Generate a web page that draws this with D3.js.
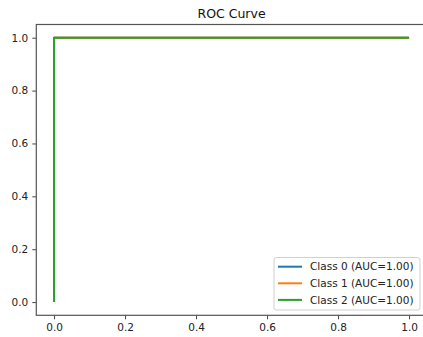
<!DOCTYPE html>
<html><head><meta charset="utf-8">
<script src="https://cdn.jsdelivr.net/npm/d3@7"></script>
<style>body{margin:0;background:#fff}svg{display:block}</style>
</head><body>
<svg id="c" width="423" height="337"></svg>
<script>
const title = "ROC Curve";
const classNames = ["Class 0 (AUC=1.00)", "Class 1 (AUC=1.00)", "Class 2 (AUC=1.00)"];
const colors = ["#1f77b4", "#ff7f0e", "#2ca02c"];
const fpr0 = [0, 0, 1], tpr0 = [0, 1, 1];
const fpr1 = [0, 0, 1], tpr1 = [0, 1, 1];
const fpr2 = [0, 0, 1], tpr2 = [0, 1, 1];
const xTicks = [0, 0.2, 0.4, 0.6, 0.8, 1.0];
const yTicks = [0, 0.2, 0.4, 0.6, 0.8, 1.0];

const series = [[fpr0, tpr0], [fpr1, tpr1], [fpr2, tpr2]];
const svg = d3.select("#c");
const L = 36.3, R = 426.8, T = 24.5, B = 315.3;
const x = d3.scaleLinear().domain([-0.05, 1.05]).range([L, R]);
const y = d3.scaleLinear().domain([-0.05, 1.05]).range([B, T]);
const font = "DejaVu Sans";

const line = d3.line().x(d => x(d[0])).y(d => y(d[1]));
series.forEach((s, i) => {
  const pts = s[0].map((v, j) => [v, s[1][j]]);
  svg.append("path").attr("d", line(pts)).attr("fill", "none")
    .attr("stroke", colors[i]).attr("stroke-width", 2).attr("stroke-linejoin", "round");
});

const xa = svg.append("g").attr("transform", `translate(0,${B})`)
  .call(d3.axisBottom(x).tickValues(xTicks).tickFormat(d3.format(".1f")).tickSizeOuter(0).tickSize(4).tickPadding(4));
const ya = svg.append("g").attr("transform", `translate(${L},0)`)
  .call(d3.axisLeft(y).tickValues(yTicks).tickFormat(d3.format(".1f")).tickSizeOuter(0).tickSize(4).tickPadding(4));
[xa, ya].forEach(a => {
  a.select(".domain").remove();
  a.selectAll("line").attr("stroke", "#444").attr("stroke-width", 1);
  a.selectAll("text").attr("font-family", font).attr("font-size", 10.5).attr("fill", "#222");
});
svg.append("rect").attr("x", L).attr("y", T).attr("width", R - L).attr("height", B - T)
  .attr("fill", "none").attr("stroke", "#555").attr("stroke-width", 1.2);

svg.append("text").attr("x", (L + R) / 2).attr("y", 18).attr("text-anchor", "middle")
  .attr("font-family", font).attr("font-size", 12.5).attr("fill", "#111").text(title);

const lg = svg.append("g");
lg.append("rect").attr("x", 274).attr("y", 257.5).attr("width", 146).attr("height", 52.5).attr("rx", 2.5)
  .attr("fill", "#fff").attr("fill-opacity", 0.8).attr("stroke", "#d0d0d0").attr("stroke-width", 1);
classNames.forEach((n, i) => {
  const yy = 266.7 + i * 16.6;
  lg.append("line").attr("x1", 278).attr("x2", 302).attr("y1", yy).attr("y2", yy)
    .attr("stroke", colors[i]).attr("stroke-width", 2);
  lg.append("text").attr("x", 310).attr("y", yy).attr("dy", "0.36em")
    .attr("font-family", font).attr("font-size", 10.5).attr("fill", "#222").text(n);
});
</script>
</body></html>
